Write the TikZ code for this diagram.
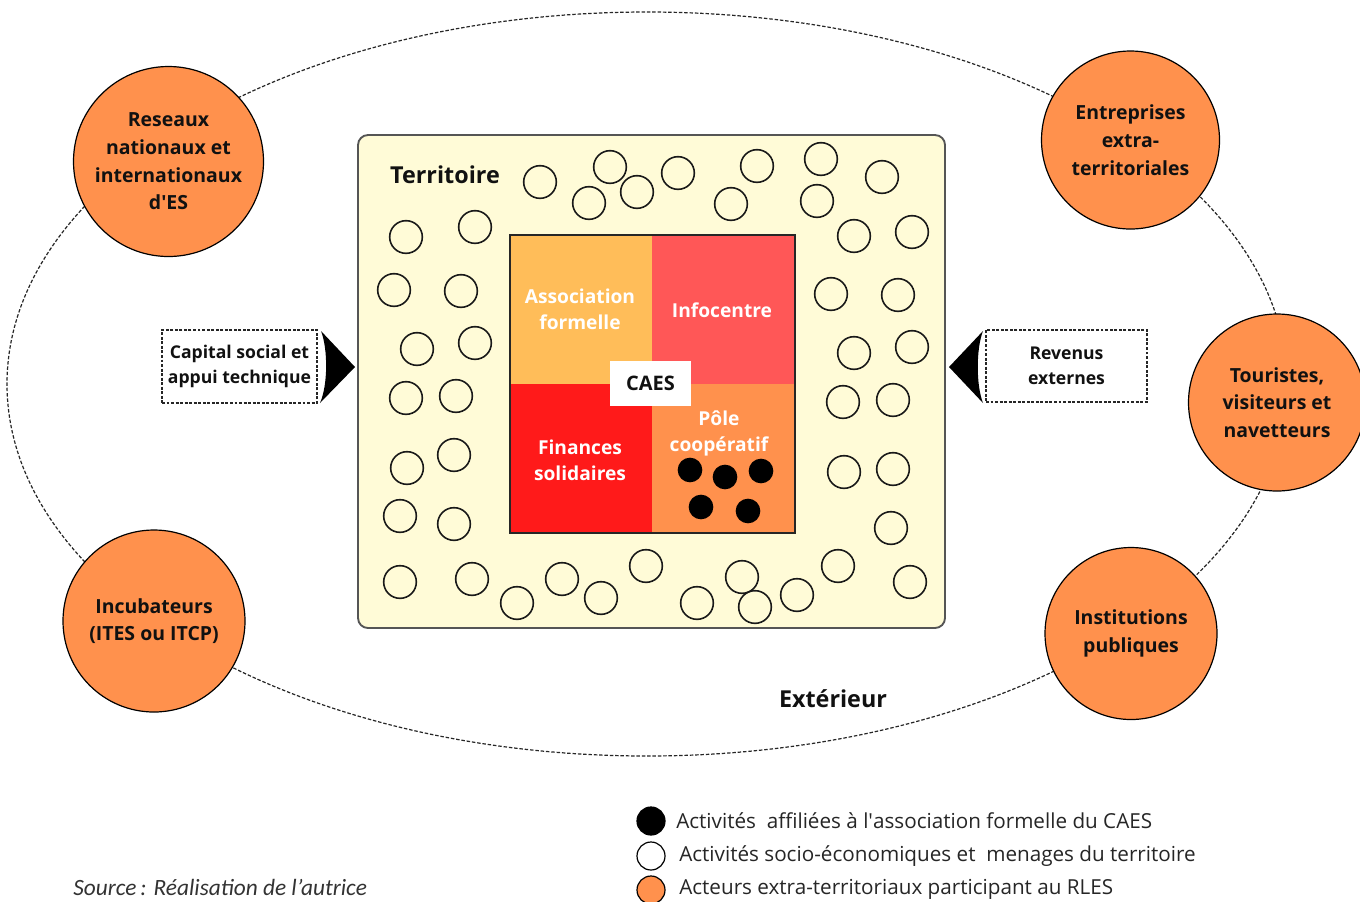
\documentclass[tikz,border=0pt]{standalone}
\usepackage{fontspec}
\setmainfont{Open Sans}
\newfontfamily\srcfont{Carlito}
\definecolor{orangeC}{HTML}{FF914D}
\definecolor{terrC}{HTML}{FFFBD7}
\definecolor{terrB}{HTML}{555555}
\definecolor{assocC}{HTML}{FFBD59}
\definecolor{infoC}{HTML}{FF5757}
\definecolor{finC}{HTML}{FF1A1A}
\definecolor{poleC}{HTML}{FF914D}
\definecolor{txtC}{HTML}{111111}
\begin{document}
\begin{tikzpicture}[x=0.75pt,y=-0.75pt,
  actor/.style={circle, draw=black, line width=0.9pt, fill=orangeC, minimum size=#1, inner sep=0pt, align=center, font=\fontsize{14.6}{20.8}\selectfont\bfseries, text=txtC},
  house/.style={circle, draw=black!90, line width=1.2pt, minimum size=24.5pt, inner sep=0pt},
  member/.style={circle, fill=black, minimum size=18.5pt, inner sep=0pt},
  quadlabel/.style={align=center, text=white, font=\fontsize{14.4}{19.5}\selectfont\bfseries},
  dashbox/.style={draw=black!85, line width=0.8pt, dash pattern=on 2.2pt off 1.2pt, fill=white, align=center, inner sep=0pt, font=\fontsize{13.2}{18.4}\selectfont\bfseries, text=txtC},
  zonelabel/.style={font=\fontsize{17.5}{20}\selectfont\bfseries, text=txtC},
  legtext/.style={anchor=west, font=\fontsize{15.5}{18}\selectfont, text=black!85, inner sep=0pt},
  legdot/.style={circle, draw=black, line width=0.9pt, minimum size=21pt, inner sep=0pt}
]
\useasboundingbox (0,0) rectangle (1360,901);
\fill[white] (0,0) rectangle (1360,901);

% outer dashed ellipse (Exterieur)
\draw[black!85, line width=0.9pt, dash pattern=on 2.6pt off 1.4pt] (647,384) ellipse [x radius=640, y radius=372];

% territory
\node[draw=terrB, line width=1.4pt, fill=terrC, rounded corners=7.5pt, minimum width=440.25pt, minimum height=369.75pt, inner sep=0pt] (terr) at (651.5,381.5) {};
\node[zonelabel] (terrlabel) at (445,175) {Territoire};

% households / socio-economic activities
\foreach \p [count=\i] in {(540,182),(610,167),(589,203),(637,192),(678,173),(757,166),(731,204),(821,159),(817,201),(882,177),
  (406,237),(475,227),(394,290),(461,291),(417,349),(475,343),(406,398),(456,396),(407,468),(454,455),(400,516),(454,524),
  (854,236),(912,232),(831,294),(898,295),(854,353),(912,347),(843,402),(893,400),(844,472),(893,469),(891,528),
  (400,582),(472,579),(517,603),(562,579),(601,598),(646,566),(697,603),(742,577),(755,607),(797,595),(838,566),(910,582)}
  \node[house] (h\i) at \p {};

% CAES square
\fill[assocC] (510,235) rectangle (652,384);
\fill[infoC] (652,235) rectangle (795,384);
\fill[finC] (510,384) rectangle (652,533);
\fill[poleC] (652,384) rectangle (795,533);
\node[draw=black!85, line width=1.1pt, minimum width=213.75pt, minimum height=223.5pt, inner sep=0pt] (caesbox) at (652.5,384) {};
\node[quadlabel] (assoc) at (580,309) {Association\\formelle};
\node[quadlabel] (info) at (722,310) {Infocentre};
\node[quadlabel] (fin) at (580,460) {Finances\\solidaires};
\node[quadlabel] (pole) at (719,433) {Pôle\\coopératif};
\node[fill=white, minimum width=60.75pt, minimum height=33.75pt, inner sep=0pt, font=\fontsize{15}{18}\selectfont\bfseries, text=txtC] (caes) at (650.5,383.5) {CAES};
\foreach \p [count=\i] in {(690,470),(725,477),(761,471),(701,507),(748,511)}
  \node[member] (m\i) at \p {};

% external actors
\node[actor=142.5pt] (reseaux) at (168.5,161.5) {Reseaux\\nationaux et\\internationaux\\d\textquotesingle ES};
\node[actor=133.5pt] (entr) at (1130.5,140) {Entreprises\\extra-\\territoriales};
\node[actor=132.75pt] (tour) at (1277,402.5) {Touristes,\\visiteurs et\\navetteurs};
\node[actor=129pt] (inst) at (1131,633.5) {Institutions\\publiques};
\node[actor=136.5pt] (incub) at (154,621) {Incubateurs\\(ITES ou ITCP)};

\node[zonelabel] (ext) at (833,699) {Extérieur};

% flows
\node[dashbox, minimum width=116.25pt, minimum height=54.75pt] (capbox) at (239.5,366.5) {Capital social et\\appui technique};
\node[dashbox, minimum width=120.75pt, minimum height=54pt] (revbox) at (1066.5,366) {Revenus\\externes};
\fill[black] (321,331) -- (355,367) -- (320,403) .. controls (328,385) and (328,349) .. (321,331) -- cycle;
\fill[black] (983,331) -- (949,367) -- (983,403) .. controls (976,385) and (976,349) .. (983,331) -- cycle;

% legend
\node[legdot, fill=black] (l1) at (651,821) {};
\node[legdot, fill=white] (l2) at (651,856) {};
\node[legdot, fill=orangeC] (l3) at (651,890) {};
\node[legtext] (t1) at (676,821) {Activités\ \ affiliées à l\textquotesingle association formelle du CAES};
\node[legtext] (t2) at (679,856) {Activités socio-économiques et\ \ menages du territoire};
\node[legtext] (t3) at (679,889) {Acteurs extra-territoriaux participant au RLES};

\node[anchor=west, inner sep=0pt, font=\srcfont\itshape\fontsize{17.5}{20}\selectfont, text=black!80] (src) at (73,887) {Source\,: Réalisation de l’autrice};
\end{tikzpicture}
\end{document}
